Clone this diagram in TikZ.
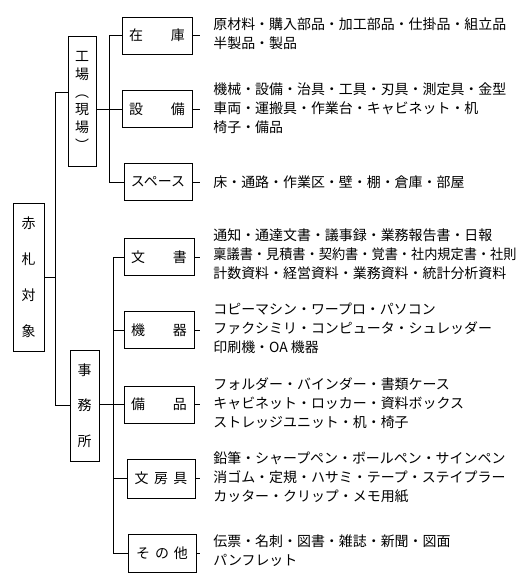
\documentclass[tikz,border=0pt]{standalone}
\usepackage{fontspec}
\newfontfamily\jp{Noto Sans CJK JP}
\begin{document}
\begin{tikzpicture}[x=1bp,y=-1bp,line width=0.8bp,
  vbox/.style={draw,inner sep=0pt,align=center,font=\jp\fontsize{14}{#1}\selectfont},
  catbox/.style={draw,inner sep=0pt,minimum width=70bp,minimum height=37bp,font=\jp\fontsize{14}{19}\selectfont},
  items/.style={anchor=west,inner xsep=13bp,inner ysep=0pt,align=left,font=\jp\fontsize{14}{19}\selectfont}]
\useasboundingbox (0,0) rectangle (528,580);
% vertical boxes
\node[vbox=36,minimum width=31bp,minimum height=148bp] (root) at (28.5,277) {赤\\札\\対\\象};
\node[vbox=17.8,minimum width=28bp,minimum height=130bp] (fac) at (82,101) {工\\場\\︵\\現\\場\\︶};
\node[vbox=35.5,minimum width=29bp,minimum height=111bp] (off) at (84.5,405.5) {事\\務\\所};
% category boxes
\node[catbox] (zaiko) at (157,35.5) {在\hspace{28bp}庫};
\node[catbox] (setsubi) at (157,109) {設\hspace{28bp}備};
\node[catbox,minimum width=68bp] (space) at (158,182) {スペース};
\node[catbox] (bunsho) at (159,257) {文\hspace{28bp}書};
\node[catbox] (kiki) at (159,330) {機\hspace{28bp}器};
\node[catbox] (bihin) at (159,404.5) {備\hspace{28bp}品};
\node[catbox,minimum width=68bp,minimum height=39bp] (bunbougu) at (161,478.5) {文\hspace{5.5bp}房\hspace{5.5bp}具};
\node[catbox,minimum width=68bp,minimum height=38bp] (sonota) at (162,553) {そ\hspace{5bp}の\hspace{5bp}他};
% item texts
\node[items] (i1) at (200,34) {原材料・購入部品・加工部品・仕掛品・組立品\\半製品・製品};
\node[items] (i2) at (200,108) {機械・設備・治具・工具・刃具・測定具・金型\\車両・運搬具・作業台・キャビネット・机\\椅子・備品};
\node[items] (i3) at (200,182) {床・通路・作業区・壁・棚・倉庫・部屋};
\node[items] (i4) at (200,254) {通知・通達文書・議事録・業務報告書・日報\\\scalebox{0.945}[1]{稟議書・見積書・契約書・覚書・社内規定書・社則}\\計数資料・経営資料・業務資料・統計分析資料};
\node[items] (i5) at (200,328) {コピーマシン・ワープロ・パソコン\\ファクシミリ・コンピュータ・シュレッダー\\印刷機・OA 機器};
\node[items] (i6) at (200,403) {フォルダー・バインダー・書類ケース\\キャビネット・ロッカー・資料ボックス\\ストレッジユニット・机・椅子};
\node[items] (i7) at (200,477) {鉛筆・シャープペン・ボールペン・サインペン\\消ゴム・定規・ハサミ・テープ・ステイプラー\\カッター・クリップ・メモ用紙};
\node[items] (i8) at (200,551) {伝票・名刺・図書・雑誌・新聞・図面\\パンフレット};
% junctions
\coordinate (tTop) at (55,92);
\coordinate (tBot) at (55,405);
\coordinate (tMid) at (55,277);
\coordinate (fTop) at (109,35.5);
\coordinate (fBot) at (109,182);
\coordinate (oTop) at (113,257);
\coordinate (oBot) at (113,553);
% trunk
\draw (root.east |- tMid) -- (tMid);
\draw (fac.west |- tTop) -- (tTop) -- (tBot) -- (off.west |- tBot);
% factory branch
\draw (fac.east |- setsubi) -- (setsubi.west);
\draw (zaiko.west) -- (fTop) -- (fBot) -- (space.west);
% office branch
\draw (off.east |- bihin) -- (bihin.west);
\draw (bunsho.west) -- (oTop) -- (oBot) -- (sonota.west);
\draw (oTop |- kiki) -- (kiki.west);
\draw (oTop |- bunbougu) -- (bunbougu.west);
% item connectors
\foreach \b/\i in {zaiko/i1,setsubi/i2,space/i3,bunsho/i4,kiki/i5,bihin/i6,bunbougu/i7,sonota/i8}
  \draw (\b.east) -- (\b.east -| \i.west);
\end{tikzpicture}
\end{document}
